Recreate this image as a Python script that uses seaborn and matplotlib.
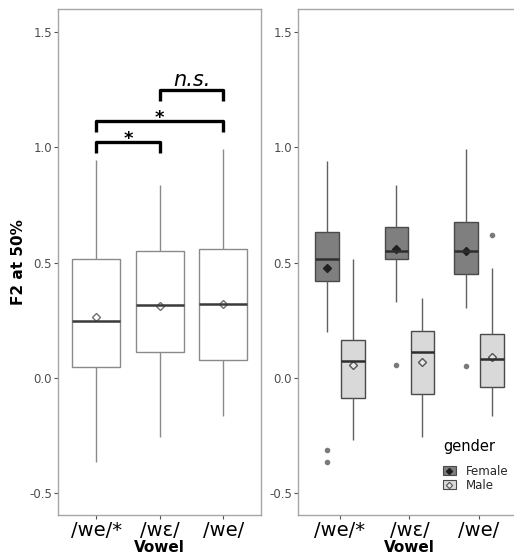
import numpy as np
import pandas as pd
import matplotlib
matplotlib.use("Agg")
import matplotlib.pyplot as plt
import seaborn as sns
from matplotlib.patches import Patch
from matplotlib.lines import Line2D
from matplotlib.legend_handler import HandlerTuple

sns.set_theme(style="white")
plt.rcParams['font.family'] = ['DejaVu Sans']
plt.rcParams['axes.unicode_minus'] = False

# ---------------- data ----------------
vowels = ["/we/*", "/wɛ/", "/we/"]
genders = ["Female", "Male"]
yticks = [-0.5, 0.0, 0.5, 1.0, 1.5]

# left panel: all speakers (five-number summaries + means)
all_low = [-0.365, -0.257, -0.166]
all_q1 = [0.048, 0.112, 0.077]
all_med = [0.245, 0.316, 0.320]
all_q3 = [0.516, 0.550, 0.557]
all_high = [0.945, 0.836, 0.993]
all_mean = [0.264, 0.313, 0.321]

# right panel: by gender
fem_low = [0.198, 0.327, 0.304]
fem_q1 = [0.420, 0.514, 0.450]
fem_med = [0.516, 0.550, 0.551]
fem_q3 = [0.631, 0.654, 0.676]
fem_high = [0.942, 0.836, 0.991]
fem_mean = [0.478, 0.557, 0.550]
fem_out = [[-0.313, -0.365], [0.055], [0.052]]

male_low = [-0.270, -0.257, -0.166]
male_q1 = [-0.087, -0.072, -0.039]
male_med = [0.073, 0.113, 0.080]
male_q3 = [0.163, 0.204, 0.190]
male_high = [0.514, 0.347, 0.478]
male_mean = [0.057, 0.070, 0.089]
male_out = [[], [], [0.620]]

# significance comparisons: (from, to, label, bracket height, leg bottom)
comparisons = [
    ("/we/*", "/wɛ/", "*", 1.024, 0.977),
    ("/we/*", "/we/", "*", 1.113, 1.066),
    ("/wɛ/", "/we/", "n.s.", 1.248, 1.200),
]


def box_values(low, q1, med, q3, high, outliers):
    # encode a five-number summary so the boxplot reproduces it exactly
    return list(outliers) + [low] + [q1] * 10 + [med] * 10 + [q3] * 10 + [high]


rows = []
for i, v in enumerate(vowels):
    for val in box_values(all_low[i], all_q1[i], all_med[i], all_q3[i], all_high[i], []):
        rows.append((v, val))
df_all = pd.DataFrame(rows, columns=["Vowel", "F2"])

rows = []
for i, v in enumerate(vowels):
    for val in box_values(fem_low[i], fem_q1[i], fem_med[i], fem_q3[i], fem_high[i], fem_out[i]):
        rows.append((v, "Female", val))
    for val in box_values(male_low[i], male_q1[i], male_med[i], male_q3[i], male_high[i], male_out[i]):
        rows.append((v, "Male", val))
df_g = pd.DataFrame(rows, columns=["Vowel", "gender", "F2"])

mean_all = pd.DataFrame({"Vowel": vowels, "F2": all_mean})
mean_g = pd.DataFrame({"Vowel": vowels * 2,
                       "gender": ["Female"] * 3 + ["Male"] * 3,
                       "F2": fem_mean + male_mean})

# ---------------- figure ----------------
W, H = 514, 555
fig = plt.figure(figsize=(W / 100, H / 100), dpi=100)
ax1 = fig.add_axes([58.2 / W, 40 / H, 203.2 / W, 506 / H])
ax2 = fig.add_axes([298.4 / W, 40 / H, 222.1 / W, 506 / H])

fills = {"Female": "#7f7f7f", "Male": "#d9d9d9"}
spine_col = "#a6a6a6"

# left panel boxes
sns.boxplot(data=df_all, x="Vowel", y="F2", order=vowels, color="white",
            saturation=1, width=0.75, linecolor="#8a8a8a", linewidth=1.0,
            showcaps=False, fliersize=3,
            medianprops=dict(color="#3a3a3a", linewidth=1.8),
            ax=ax1)
n0 = len(ax1.lines)
sns.pointplot(data=mean_all, x="Vowel", y="F2", order=vowels, color="#707070",
              markers="D", linestyle="none", errorbar=None, ax=ax1)
for ln in ax1.lines[n0:]:
    ln.set_markerfacecolor("white")
    ln.set_markeredgecolor("#707070")
    ln.set_markersize(3.6)
    ln.set_markeredgewidth(1.0)

# right panel boxes
sns.boxplot(data=df_g, x="Vowel", y="F2", hue="gender", order=vowels,
            hue_order=genders, palette=fills, saturation=1, width=0.75, gap=0.1,
            linecolor="#4a4a4a", linewidth=1.0, showcaps=False, fliersize=3,
            medianprops=dict(color="#2e2e2e", linewidth=1.8),
            whiskerprops=dict(color="#606060"),
            flierprops=dict(marker="o", markerfacecolor="#7a7a7a",
                            markeredgecolor="#7a7a7a"),
            legend=False, ax=ax2)
n0 = len(ax2.lines)
sns.pointplot(data=mean_g, x="Vowel", y="F2", hue="gender", order=vowels,
              hue_order=genders, palette={"Female": "#1f1f1f", "Male": "#606060"},
              dodge=0.375, markers="D", linestyle="none", errorbar=None,
              legend=False, ax=ax2)
mean_style = {"Female": ("#1f1f1f", "#1f1f1f"), "Male": ("#e8e8e8", "#555555")}
for ln, g in zip(ax2.lines[n0:], genders):
    fc, ec = mean_style[g]
    ln.set_markerfacecolor(fc)
    ln.set_markeredgecolor(ec)
    ln.set_markersize(3.8)
    ln.set_markeredgewidth(1.0)

# significance brackets
for a, b, lab, yb, yl in comparisons:
    xa, xb = vowels.index(a), vowels.index(b)
    ax1.plot([xa, xa, xb, xb], [yl, yb, yb, yl], color="black", lw=2.4,
             solid_joinstyle="round", solid_capstyle="butt", clip_on=False)
    if lab == "*":
        ax1.text((xa + xb) / 2, yb - 0.009, lab, ha="center", va="baseline",
                 fontsize=13, fontweight="bold", color="black")
    else:
        ax1.text((xa + xb) / 2, yb + 0.018, lab, ha="center", va="baseline",
                 fontsize=15, fontstyle="italic", color="black")

for ax in (ax1, ax2):
    ax.set_xlim(-0.6, 2.6)
    ax.set_ylim(-0.5954, 1.5998)
    ax.set_yticks(yticks)
    ax.set_yticklabels([f"{t:.1f}" for t in yticks])
    for s in ax.spines.values():
        s.set_color(spine_col)
        s.set_linewidth(1.0)
        s.set_visible(True)
    ax.tick_params(axis="y", length=3, width=0.8, color="#555555",
                   labelsize=8.5, labelcolor="#4d4d4d", pad=1.5, left=True)
    ax.tick_params(axis="x", length=3, width=0.8, color="#555555",
                   labelsize=14, labelcolor="black", pad=1, bottom=True)
    ax.set_xlabel("Vowel", fontsize=11, fontweight="bold", color="black")
    ax.xaxis.set_label_coords(0.5, -0.050)
    ax.xaxis.label.set_va("top")
    ax.grid(False)

ax2.spines["right"].set_visible(False)

ax1.set_ylabel("F2 at 50%", fontsize=11, fontweight="bold", color="black")
ax1.yaxis.set_label_coords(-0.158, 0.5)
ax2.set_ylabel("")

# legend
fig.text(443 / W, 1 - 447 / H, "gender", ha="left", va="center",
         fontsize=10.5, color="black")
handles = []
for g in genders:
    fc, ec = mean_style[g]
    handles.append((Patch(facecolor=fills[g], edgecolor="#4a4a4a", linewidth=0.8),
                    Line2D([], [], ls="none", marker="D", markersize=3.2,
                           markerfacecolor=fc, markeredgecolor=ec, markeredgewidth=0.8)))
leg = fig.legend(handles, genders,
                 handler_map={tuple: HandlerTuple(ndivide=1, pad=0)},
                 loc="upper left", bbox_to_anchor=(443 / W, 1 - 465 / H),
                 frameon=False, fontsize=8.5,
                 handlelength=1.1, handleheight=0.8, handletextpad=0.85,
                 labelspacing=0.08, borderpad=0, borderaxespad=0)

fig.savefig("out.png", dpi=100)
